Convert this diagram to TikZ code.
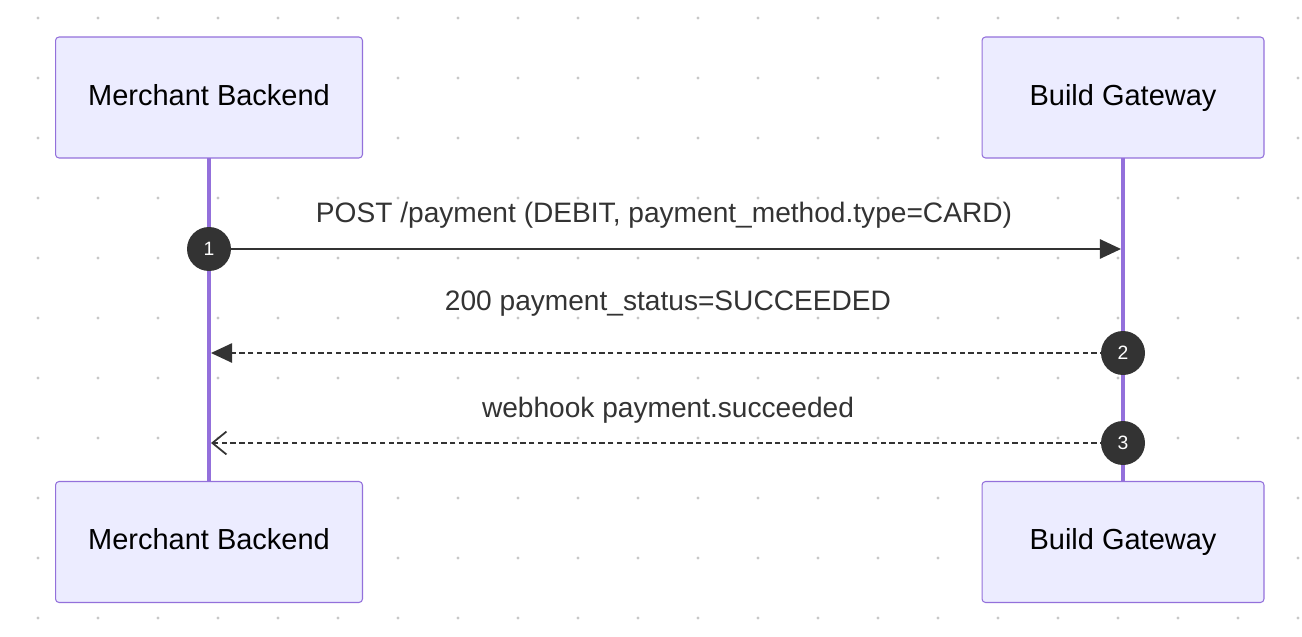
\documentclass[tikz,border=0pt]{standalone}
\usepackage{fontspec}
\setmainfont{Liberation Sans}
\usetikzlibrary{arrows.meta}
\definecolor{actorfill}{HTML}{ECECFF}
\definecolor{actorline}{HTML}{9370DB}
\definecolor{msgline}{HTML}{333333}
\tikzset{
  actor/.style={draw=actorline, fill=actorfill, rounded corners=2pt, line width=0.6pt,
    minimum height=2.42cm, text height=12pt, text depth=3pt, font=\fontsize{16.5}{19}\selectfont},
  msg/.style={draw=msgline, line width=1pt},
  msglabel/.style={font=\fontsize{16}{19}\selectfont, text=msgline},
  seqno/.style={circle, fill=msgline, minimum size=0.88cm, inner sep=0pt,
    text=white, font=\fontsize{11}{13}\selectfont}
}
\begin{document}
\begin{tikzpicture}[x=0.02cm, y=-0.02cm]
\useasboundingbox (0,0) rectangle (1302,636);
% background dots
\foreach \x in {38,98,...,1298}
  \foreach \y in {18,78,...,636}
    \fill[black!22] (\x,\y) circle (1.7);

% lifelines
\draw[actorline, line width=2pt] (209,158) -- (209,481);
\draw[actorline, line width=2pt] (1123,158) -- (1123,481);

% actors
\node[actor, minimum width=6.14cm] (mtop) at (209,97.5) {Merchant Backend};
\node[actor, minimum width=5.64cm] (gtop) at (1123,97.5) {Build Gateway};
\node[actor, minimum width=6.14cm] (mbot) at (209,542) {Merchant Backend};
\node[actor, minimum width=5.64cm] (gbot) at (1123,542) {Build Gateway};

% messages
\coordinate (m1) at (209,249);
\coordinate (g1) at (1121,249);
\coordinate (g2) at (1123,353);
\coordinate (m2) at (211,353);
\coordinate (g3) at (1123,443);
\coordinate (m3) at (211,443);

\draw[msg, -{Triangle[length=12pt,width=11pt]}] (m1) -- (g1);
\node[msglabel] at (664,215) {POST /payment (DEBIT, payment\_method.type=CARD)};
\draw[msg, dashed, dash pattern=on 3pt off 2pt, -{Triangle[length=12pt,width=11pt]}] (g2) -- (m2);
\node[msglabel] at (668,304) {200 payment\_status=SUCCEEDED};
\draw[msg, dashed, dash pattern=on 3pt off 2pt, -{Straight Barb[length=8pt,width=13pt]}] (g3) -- (m3);
\node[msglabel] at (668,410) {webhook payment.succeeded};

% sequence numbers
\node[seqno] (n1) at (m1) {1};
\node[seqno] (n2) at (g2) {2};
\node[seqno] (n3) at (g3) {3};
\end{tikzpicture}
\end{document}
